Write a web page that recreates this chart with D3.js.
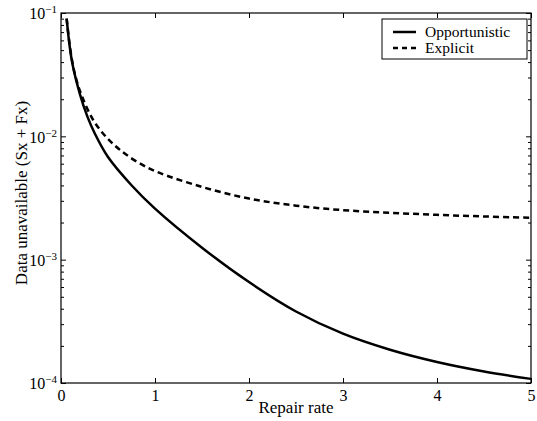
<!DOCTYPE html>
<html>
<head>
<meta charset="utf-8">
<script src="https://cdn.jsdelivr.net/npm/d3@7"></script>
<style>
  body { margin: 0; background: #fff; }
  text { font-family: "Liberation Serif", "Times New Roman", serif; fill: #000; }
</style>
</head>
<body>
<svg id="chart" width="537" height="421"></svg>
<script>
// repair rate vs. probability data is unavailable
var rateOpp = [0.06, 0.114, 0.202, 0.28, 0.362, 0.5, 0.75, 1.0, 1.5, 2.0, 2.5, 3.0, 3.5, 4.0, 4.5, 5.0];
var valOpp = [0.0900, 0.0416, 0.0219, 0.01452, 0.01045, 0.00679, 0.00401, 0.00259, 0.00125, 0.000658, 0.000380, 0.000251, 0.000186, 0.000148, 0.000124, 0.000108];

var rateExp = [0.06, 0.1, 0.149, 0.22, 0.344, 0.486, 0.628, 0.805, 1.018, 1.5, 2.0, 2.5, 3.0, 3.5, 4.0, 4.5, 5.0];
var valExp = [0.0900, 0.0501, 0.0316, 0.0214, 0.0135, 0.00977, 0.00776, 0.00624, 0.00516, 0.00389, 0.00313, 0.00274, 0.00252, 0.00240, 0.00231, 0.00224, 0.00219];

var xTicks = [0, 1, 2, 3, 4, 5];
var yMajor = [1e-4, 1e-3, 1e-2, 1e-1];
var yExp = ["\u22124", "\u22123", "\u22122", "\u22121"];
var seriesNames = ["Opportunistic", "Explicit"];

var svg = d3.select("#chart"),
    margin = { top: 13, right: 6, bottom: 38, left: 61 },
    width = +svg.attr("width") - margin.left - margin.right,
    height = +svg.attr("height") - margin.top - margin.bottom,
    g = svg.append("g").attr("transform", "translate(" + margin.left + "," + margin.top + ")");

var x = d3.scaleLinear().domain([0, 5]).range([0, width]);
var y = d3.scaleLog().domain([1e-4, 1e-1]).range([height, 0]);

var yMinor = y.ticks().filter(function (d) { return yMajor.indexOf(d) < 0; });

var line = d3.line()
    .curve(d3.curveCatmullRom.alpha(0.5))
    .x(function (d) { return x(d[0]); })
    .y(function (d) { return y(d[1]); });

// minor log ticks, left and right
g.append("g")
    .call(d3.axisLeft(y).tickValues(yMinor).tickSize(-3).tickFormat(""))
    .select(".domain").remove();
g.append("g")
    .attr("transform", "translate(" + width + ",0)")
    .call(d3.axisRight(y).tickValues(yMinor).tickSize(-3).tickFormat(""))
    .select(".domain").remove();

// major y ticks
var yAxis = g.append("g")
    .call(d3.axisLeft(y).tickValues(yMajor).tickSize(-5).tickPadding(4).tickFormat(""));
yAxis.select(".domain").remove();
yAxis.selectAll(".tick text")
    .attr("dy", "0.36em")
    .attr("x", -4)
    .style("font-size", "16px")
    .each(function (d, i) {
        var t = d3.select(this);
        t.append("tspan").text("10");
        t.append("tspan").attr("dy", "-0.55em").style("font-size", "11px").text(yExp[i]);
    });
g.append("g")
    .attr("transform", "translate(" + width + ",0)")
    .call(d3.axisRight(y).tickValues(yMajor).tickSize(-5).tickFormat(""))
    .select(".domain").remove();

// x axis bottom and top
var xAxis = g.append("g")
    .attr("transform", "translate(0," + height + ")")
    .call(d3.axisBottom(x).tickValues(xTicks).tickSize(-5).tickPadding(7).tickFormat(d3.format("d")));
xAxis.select(".domain").remove();
xAxis.selectAll(".tick text").style("font-size", "16px");
g.append("g")
    .call(d3.axisTop(x).tickValues(xTicks).tickSize(-5).tickFormat(""))
    .select(".domain").remove();

g.selectAll(".tick line").attr("stroke", "#000");

// box
g.append("rect")
    .attr("width", width)
    .attr("height", height)
    .attr("fill", "none")
    .attr("stroke", "#000")
    .attr("stroke-width", 1.2);

// curves
g.append("path")
    .attr("fill", "none")
    .attr("stroke", "#000")
    .attr("stroke-width", 2.5)
    .attr("d", line(d3.zip(rateOpp, valOpp)));

g.append("path")
    .attr("fill", "none")
    .attr("stroke", "#000")
    .attr("stroke-width", 2.5)
    .attr("stroke-dasharray", "6,4")
    .attr("d", line(d3.zip(rateExp, valExp)));

// axis labels
svg.append("text")
    .attr("x", margin.left + width / 2)
    .attr("y", 413)
    .attr("text-anchor", "middle")
    .style("font-size", "17px")
    .text("Repair rate");

svg.append("text")
    .attr("transform", "translate(27," + (margin.top + height / 2 - 5) + ") rotate(-90)")
    .attr("text-anchor", "middle")
    .style("font-size", "17px")
    .text("Data unavailable (Sx + Fx)");

// legend
var legend = g.append("g").attr("transform", "translate(" + (width - 149) + ",6)");
legend.append("rect")
    .attr("width", 145)
    .attr("height", 40)
    .attr("fill", "#fff")
    .attr("stroke", "#000")
    .attr("stroke-width", 1);

seriesNames.forEach(function (name, i) {
    var row = legend.append("g").attr("transform", "translate(0," + (13 + i * 16) + ")");
    row.append("line")
        .attr("x1", 11).attr("x2", 34)
        .attr("stroke", "#000")
        .attr("stroke-width", 2.5)
        .attr("stroke-dasharray", i === 1 ? "5,4" : null);
    row.append("text")
        .attr("x", 43)
        .attr("dy", "0.35em")
        .style("font-size", "15.5px")
        .text(name);
});
</script>
</body>
</html>
